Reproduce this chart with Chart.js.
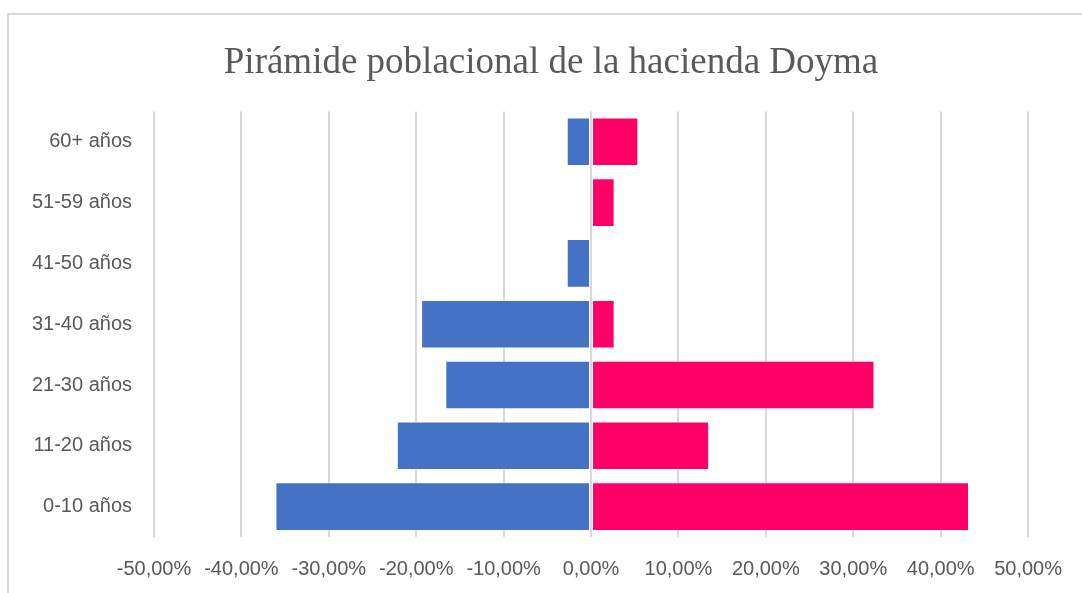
<!DOCTYPE html>
<html>
<head>
<meta charset="utf-8">
<script src="https://cdn.jsdelivr.net/npm/chart.js@4.4.1/dist/chart.umd.min.js"></script>
<style>
  html, body { margin: 0; padding: 0; background: #ffffff; overflow: hidden; }
  #wrap { position: relative; width: 1082px; height: 593px; }
  #frame { position: absolute; left: 7px; top: 13px; width: 1100px; height: 600px;
           border-left: 2px solid #d9d9d9; border-top: 2px solid #d9d9d9; box-sizing: border-box; }
  #c { position: absolute; left: 0; top: 0; }
</style>
</head>
<body>
<div id="wrap">
  <div id="frame"></div>
  <canvas id="c" width="1082" height="593"></canvas>
</div>
<script>
const categories = ['60+ años', '51-59 años', '41-50 años', '31-40 años', '21-30 años', '11-20 años', '0-10 años'];
// Percent shares (left side stored as negative values)
const hombres = [-2.78, 0, -2.78, -19.44, -16.67, -22.22, -36.11];
const mujeres = [5.41, 2.70, 0, 2.70, 32.43, 13.51, 43.24];
const xTicks = [-50, -40, -30, -20, -10, 0, 10, 20, 30, 40, 50];
const titleText = 'Pirámide poblacional de la hacienda Doyma';

function fmt(v) {
  return v.toFixed(2).replace('.', ',') + '%';
}

const ctx = document.getElementById('c').getContext('2d');
new Chart(ctx, {
  type: 'bar',
  data: {
    labels: categories,
    datasets: [
      {
        label: 'Hombres',
        data: hombres,
        backgroundColor: '#4472C4',
        borderColor: 'rgba(255,255,255,0.5)',
        borderWidth: 1,
        borderSkipped: false,
        barPercentage: 0.8,
        categoryPercentage: 1.0
      },
      {
        label: 'Mujeres',
        data: mujeres,
        backgroundColor: '#FF0066',
        borderColor: 'rgba(255,255,255,0.5)',
        borderWidth: 1,
        borderSkipped: false,
        barPercentage: 0.8,
        categoryPercentage: 1.0
      }
    ]
  },
  options: {
    indexAxis: 'y',
    responsive: false,
    animation: false,
    devicePixelRatio: 1,
    layout: { padding: { left: 20, right: 0, top: 0, bottom: 0 } },
    plugins: {
      legend: { display: false },
      tooltip: { enabled: false },
      title: {
        display: true,
        text: titleText,
        color: '#595959',
        font: { family: '"Liberation Serif", "Times New Roman", serif', size: 37, weight: 'normal' },
        padding: { top: 41, bottom: 26 }
      }
    },
    scales: {
      x: {
        type: 'linear',
        stacked: true,
        min: -50,
        max: 50,
        afterBuildTicks: (scale) => { scale.ticks = xTicks.map(v => ({ value: v })); },
        afterFit: (scale) => { scale.height = 56; },
        ticks: {
          callback: (v) => fmt(v),
          color: '#595959',
          font: { family: '"Liberation Sans", Arial, sans-serif', size: 20 },
          padding: 20,
          maxRotation: 0,
          autoSkip: false
        },
        grid: { color: '#d9d9d9', lineWidth: 2, drawTicks: false },
        border: { display: false }
      },
      y: {
        type: 'category',
        stacked: true,
        position: 'left',
        afterFit: (scale) => { scale.width = 134; },
        ticks: {
          color: '#595959',
          font: { family: '"Liberation Sans", Arial, sans-serif', size: 20 },
          padding: 22
        },
        grid: { display: false, drawTicks: false },
        border: { display: false }
      },
      yRight: {
        type: 'linear',
        position: 'right',
        display: true,
        afterFit: (scale) => { scale.width = 49; },
        ticks: { display: false },
        grid: { display: false, drawTicks: false },
        border: { display: false }
      }
    }
  }
});
</script>
</body>
</html>
